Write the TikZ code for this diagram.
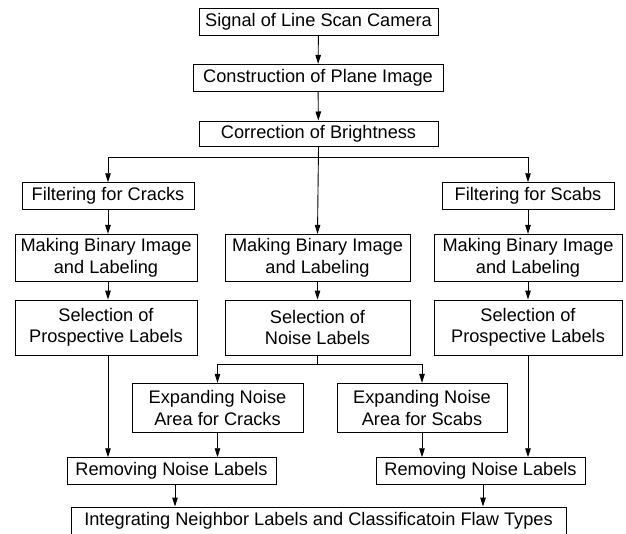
\documentclass[tikz,border=0pt]{standalone}
\usepackage{fontspec}
\setmainfont{Liberation Sans}
\usetikzlibrary{arrows.meta,positioning}
\tikzset{
  stepbox/.style={draw, line width=0.9pt, rectangle, inner sep=0pt, align=center,
    font=\fontsize{18.2}{21.5}\selectfont},
  flow/.style={line width=0.9pt, -{Triangle[length=9pt,width=5.5pt]}},
  plain/.style={line width=0.9pt}
}
\begin{document}
\begin{tikzpicture}[x=1pt,y=-1pt]
\useasboundingbox (0,0) rectangle (626,533);
% main column
\node[stepbox, minimum width=239pt, minimum height=26.7pt] (sig) at (318.5,21.7) {Signal of Line Scan Camera};
\node[stepbox, minimum width=250pt, minimum height=26.7pt] (con) at (318,77.7) {Construction of Plane Image};
\node[stepbox, minimum width=239pt, minimum height=25.7pt] (cor) at (318.5,133.8) {Correction of Brightness};
% left column
\node[stepbox, minimum width=172pt, minimum height=26.6pt] (filc) at (108,196) {Filtering for Cracks};
\node[stepbox, minimum width=182pt, minimum height=47.4pt] (mbl) at (106,258) {Making Binary Image\\and Labeling};
\node[stepbox, minimum width=182pt, minimum height=55pt] (sell) at (106,327.5) {Selection of\\Prospective Labels};
% middle column
\node[stepbox, minimum width=185pt, minimum height=47.4pt] (mbm) at (317.5,258) {Making Binary Image\\and Labeling};
\node[stepbox, minimum width=185pt, minimum height=55pt] (selm) at (317.5,327.5) {Selection of\\Noise Labels};
% right column
\node[stepbox, minimum width=172pt, minimum height=26.6pt] (filr) at (528,196) {Filtering for Scabs};
\node[stepbox, minimum width=188pt, minimum height=47.4pt] (mbr) at (528,258) {Making Binary Image\\and Labeling};
\node[stepbox, minimum width=188pt, minimum height=55pt] (selr) at (528,327.5) {Selection of\\Prospective Labels};
% expanding
\node[stepbox, minimum width=171pt, minimum height=49.4pt] (expc) at (217.5,408) {Expanding Noise\\Area for Cracks};
\node[stepbox, minimum width=170pt, minimum height=49.4pt] (exps) at (422,408) {Expanding Noise\\Area for Scabs};
% removing
\node[stepbox, minimum width=209pt, minimum height=26.6pt] (reml) at (171.5,471) {Removing Noise Labels};
\node[stepbox, minimum width=209pt, minimum height=26.6pt] (remr) at (480.5,471) {Removing Noise Labels};
% integrating
\node[stepbox, minimum width=495pt, minimum height=27pt] (integ) at (318.5,520.5) {Integrating Neighbor Labels and Classificatoin Flaw Types};

% connectors
\draw[flow] (sig) -- (con);
\draw[flow] (con) -- (cor);
\coordinate (b1) at (318.5,157.7);
\draw[flow] (cor.south) -- (mbm.north);
\draw[flow] (b1) -| (filc.north);
\draw[flow] (b1) -| (filr.north);
\draw[flow] (filc) -- (filc.south |- mbl.north);
\draw[flow] (filc.south |- mbl.south) -- (filc.south |- sell.north);
\draw[flow] (filc.south |- sell.south) -- (filc.south |- reml.north);
\draw[flow] (mbm) -- (selm);
\coordinate (b2) at (317.5,364.3);
\draw[plain] (selm.south) -- (b2);
\draw[flow] (b2) -| (expc.north);
\draw[flow] (b2) -| (exps.north);
\draw[flow] (filr) -- (mbr);
\draw[flow] (mbr) -- (selr);
\draw[flow] (selr.south) -- (selr.south |- remr.north);
\draw[flow] (expc.south) -- (expc.south |- reml.north);
\draw[flow] (exps.south) -- (exps.south |- remr.north);
\draw[flow] ([xshift=3.5pt]reml.south) -- ([xshift=3.5pt]reml.south |- integ.north);
\draw[flow] ([xshift=2.5pt]remr.south) -- ([xshift=2.5pt]remr.south |- integ.north);
\end{tikzpicture}
\end{document}
